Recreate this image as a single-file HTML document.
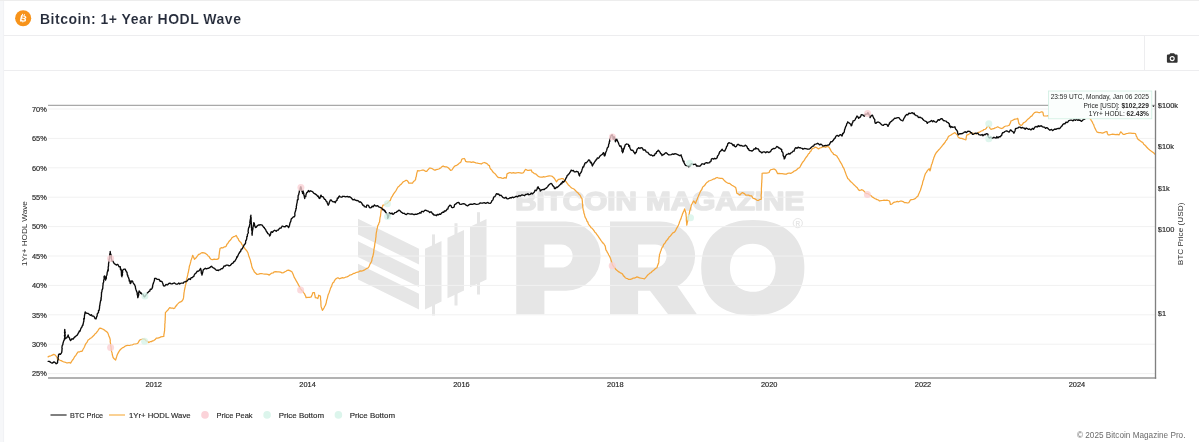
<!DOCTYPE html>
<html lang="en"><head><meta charset="utf-8"><title>Bitcoin: 1+ Year HODL Wave</title>
<style>
html,body{margin:0;padding:0;}
body{width:1199px;height:442px;overflow:hidden;background:#f6f7f9;position:relative;font-family:"Liberation Sans",sans-serif;}
#chart{position:absolute;left:0;top:0;width:1199px;height:442px;will-change:transform;}
#chart svg{display:block;}
.bar{position:absolute;left:4px;right:0;height:34px;border-bottom:1px solid #ededef;will-change:transform;}
#head{top:1px;}
#tools{top:36px;}
#head svg{position:absolute;left:11px;top:9px;}
#head h1{position:absolute;left:36px;top:7.95px;margin:0;font:bold 14px/20px "Liberation Sans",sans-serif;letter-spacing:0.5px;color:#262c3b;-webkit-text-stroke:0.1px #fff;white-space:nowrap;}
#tools .btn{position:absolute;right:0;top:-1px;width:55px;height:36px;border-left:1px solid #ededef;box-sizing:border-box;}
#tools .btn svg{position:absolute;left:21px;top:17px;}
#foot{position:absolute;right:13.7px;top:430.4px;font:8.2px/12px "Liberation Sans",sans-serif;color:#6b6b6b;white-space:nowrap;will-change:transform;}
</style></head><body>
<div id="chart">
<svg width="1199" height="442" viewBox="0 0 1199 442" >
<rect x="0" y="0" width="1199" height="442" fill="#f6f7f9"/>
<rect x="3.7" y="0.9" width="1199" height="442" fill="#fff"/>
<rect x="0" y="0" width="1199" height="0.95" fill="#ececec"/>
<line x1="3.6" x2="3.6" y1="1" y2="442" stroke="#ebedf0" stroke-width="0.6"/>
<g fill="#e6e6e6">
<polygon points="358,218.8 419,248.8 419,264.4 358,234.4"/>
<polygon points="358,241.3 419,271.3 419,286.9 358,256.9"/>
<polygon points="358,263.8 419,293.8 419,309.4 358,279.4"/>
<polygon points="425,248.8 441.5,241.0 441.5,301.6 425,309.4"/>
<rect x="432.0" y="234.4" width="3" height="81.1"/>
<polygon points="447.5,237.8 464,230.0 464,290.4 447.5,298.2"/>
<rect x="454.5" y="223.2" width="3" height="82.3"/>
<polygon points="470,226.8 486.5,219.0 486.5,279.4 470,287.2"/>
<rect x="477.0" y="212.2" width="3" height="82.3"/>
<text x="515.2" y="209.8" font-family="Liberation Sans, sans-serif" font-weight="bold" font-size="25.8" textLength="121.7" lengthAdjust="spacingAndGlyphs" stroke="#e6e6e6" stroke-width="1.6" stroke-linejoin="round">BITCOIN</text>
<text x="646.1" y="209.8" font-family="Liberation Sans, sans-serif" font-weight="bold" font-size="25.8" textLength="158.1" lengthAdjust="spacingAndGlyphs" stroke="#e6e6e6" stroke-width="1.6" stroke-linejoin="round">MAGAZINE</text>
<path fill-rule="evenodd" d="M516.25,221.5 L566,221.5 A34.6,34.6 0 0 1 566,290.75 L544.4,290.75 L544.4,314.25 L516.25,314.25 Z M544.4,244.4 L561,244.4 A11.6,11.6 0 0 1 561,267.6 L544.4,267.6 Z"/>
<path fill-rule="evenodd" d="M610,221.5 L660.5,221.5 A34.6,34.6 0 0 1 677.5,286.2 L696.9,314.25 L668.1,314.25 L650,290.75 L638.1,290.75 L638.1,314.25 L610,314.25 Z M638.1,244.4 L655,244.4 A11.6,11.6 0 0 1 655,267.6 L638.1,267.6 Z"/>
<path fill-rule="evenodd" d="M804.4,267.8 C804.4,297.7 785.0,315.6 752.8,315.6 C720.5,315.6 701.2,297.7 701.2,267.8 C701.2,237.9 720.5,220.0 752.8,220.0 C785.0,220.0 804.4,237.9 804.4,267.8 Z M775.6,267.8 C775.6,282.2 766.5,291.8 752.8,291.8 C739.1,291.8 730.0,282.2 730.0,267.8 C730.0,253.4 739.1,243.8 752.8,243.8 C766.5,243.8 775.6,253.4 775.6,267.8 Z"/>
</g>
<circle cx="797.8" cy="223.1" r="4.6" fill="none" stroke="#e6e6e6" stroke-width="1"/>
<text x="797.8" y="225.6" text-anchor="middle" font-family="Liberation Sans, sans-serif" font-weight="bold" font-size="6.5" fill="#e6e6e6">R</text>
<line x1="48" x2="1155.5" y1="109.0" y2="109.0" stroke="#f1f1f1" stroke-width="1"/>
<line x1="48" x2="1155.5" y1="138.4" y2="138.4" stroke="#f1f1f1" stroke-width="1"/>
<line x1="48" x2="1155.5" y1="167.8" y2="167.8" stroke="#f1f1f1" stroke-width="1"/>
<line x1="48" x2="1155.5" y1="197.2" y2="197.2" stroke="#f1f1f1" stroke-width="1"/>
<line x1="48" x2="1155.5" y1="226.6" y2="226.6" stroke="#f1f1f1" stroke-width="1"/>
<line x1="48" x2="1155.5" y1="256.0" y2="256.0" stroke="#f1f1f1" stroke-width="1"/>
<line x1="48" x2="1155.5" y1="285.4" y2="285.4" stroke="#f1f1f1" stroke-width="1"/>
<line x1="48" x2="1155.5" y1="314.8" y2="314.8" stroke="#f1f1f1" stroke-width="1"/>
<line x1="48" x2="1155.5" y1="344.2" y2="344.2" stroke="#f1f1f1" stroke-width="1"/>
<line x1="48" x2="1155.5" y1="373.6" y2="373.6" stroke="#f1f1f1" stroke-width="1"/>
<path d="M48.1,356.9 L49.4,356.1 L50.8,355.8 L52.3,355.1 L53.8,354.4 L55.1,355.0 L56.3,356.3 L56.9,357.4 L57.5,359.4 L58.6,359.5 L60.1,360.3 L61.2,360.6 L62.7,361.5 L63.8,361.9 L65.1,362.2 L66.4,362.8 L67.8,362.9 L69.1,362.5 L70.6,363.1 L71.5,361.7 L72.3,360.3 L73.1,359.5 L73.8,358.2 L74.7,356.5 L75.6,355.8 L76.5,354.2 L77.2,353.1 L78.1,351.9 L79.4,352.0 L80.7,351.3 L81.9,351.3 L82.7,350.1 L83.2,349.0 L83.9,348.0 L84.7,346.2 L85.3,344.7 L86.1,343.4 L86.7,342.7 L87.4,341.6 L88.1,340.0 L89.3,339.3 L90.4,338.3 L91.6,337.7 L92.7,336.5 L93.8,335.6 L94.9,334.0 L96.0,333.2 L96.8,332.1 L98.0,330.5 L99.0,328.9 L100.0,328.1 L101.1,328.4 L102.6,329.0 L103.7,329.6 L105.0,330.6 L106.4,331.5 L107.5,332.5 L108.0,333.4 L108.6,335.1 L109.1,336.6 L109.5,337.3 L110.0,338.8 L110.3,340.1 L110.2,342.0 L110.4,342.7 L110.6,344.2 L110.7,345.9 L111.0,346.8 L111.2,348.5 L111.3,350.0 L111.7,351.9 L112.1,353.0 L112.3,354.7 L112.8,356.4 L113.1,357.5 L114.4,359.1 L115.6,360.0 L116.1,358.5 L116.6,356.9 L117.0,355.5 L117.5,354.2 L118.1,353.1 L118.8,351.9 L119.6,350.5 L120.5,349.5 L121.3,348.8 L122.7,347.6 L123.7,347.3 L125.0,346.2 L126.3,345.6 L127.7,345.3 L129.5,345.5 L130.9,345.0 L132.5,344.8 L134.1,344.0 L135.8,343.8 L137.5,343.5 L138.2,342.6 L139.3,340.6 L140.0,339.8 L141.2,339.5 L142.4,339.2 L143.8,338.8 L145.2,339.8 L146.4,341.0 L147.5,341.4 L148.8,342.5 L150.1,341.7 L151.4,341.6 L152.5,340.9 L153.8,340.6 L155.2,339.6 L156.3,338.1 L157.9,338.1 L159.4,337.7 L160.8,336.9 L162.2,336.7 L163.8,336.5 L163.9,334.5 L164.2,333.1 L164.3,332.2 L164.6,330.6 L164.6,329.0 L164.8,327.0 L164.8,325.3 L164.8,323.9 L165.1,322.8 L165.0,321.6 L165.2,320.0 L165.2,318.0 L165.3,317.4 L165.3,315.8 L165.4,313.8 L165.4,312.7 L166.6,311.3 L167.5,310.6 L168.7,308.9 L169.7,307.7 L171.0,308.2 L172.4,308.0 L173.9,308.6 L174.8,307.9 L175.6,306.2 L176.4,305.9 L177.2,304.4 L178.3,303.4 L179.3,302.4 L180.6,301.9 L181.9,301.1 L183.1,299.4 L183.5,297.9 L183.7,296.2 L183.8,295.0 L184.0,292.9 L184.3,291.4 L184.5,289.8 L184.8,288.5 L185.2,286.7 L185.4,285.4 L185.8,284.2 L186.2,282.6 L186.4,281.2 L186.5,279.7 L186.9,278.2 L187.3,276.8 L187.7,274.9 L187.9,273.6 L188.3,272.6 L188.6,270.7 L188.9,269.5 L189.2,267.6 L189.4,266.2 L189.8,265.0 L190.2,263.7 L190.7,261.9 L191.0,260.3 L191.4,259.4 L191.9,257.9 L192.3,256.6 L192.7,255.3 L193.3,256.6 L194.0,258.0 L194.4,259.4 L195.6,258.3 L196.4,257.3 L197.7,255.7 L198.6,254.4 L199.9,254.1 L201.3,252.9 L202.7,252.7 L204.0,252.9 L205.5,253.4 L206.9,254.4 L208.1,255.9 L209.1,256.6 L210.0,258.3 L211.1,259.4 L212.7,259.7 L214.2,259.1 L215.5,259.3 L217.0,259.4 L218.6,258.6 L218.9,257.6 L219.0,255.4 L219.2,254.3 L219.4,252.6 L219.5,251.7 L219.8,250.1 L220.0,248.6 L221.3,247.7 L222.7,247.9 L224.1,246.9 L225.3,246.9 L226.3,246.0 L226.9,244.3 L227.8,243.5 L228.7,241.9 L229.4,241.0 L230.4,240.0 L231.1,239.1 L232.0,237.7 L233.5,236.7 L234.9,236.3 L236.2,235.5 L236.7,236.3 L237.4,238.0 L238.2,238.6 L238.7,240.2 L239.6,241.4 L240.5,242.1 L241.3,243.2 L242.0,244.6 L243.0,245.8 L243.7,246.9 L244.4,247.9 L245.3,249.2 L246.1,250.0 L247.0,251.1 L247.9,252.7 L248.3,254.1 L248.8,256.0 L249.3,257.3 L249.8,258.6 L250.4,260.3 L250.6,261.5 L251.1,263.3 L251.4,264.2 L251.7,265.9 L252.2,267.8 L252.9,269.1 L253.7,270.3 L254.2,271.8 L255.5,273.0 L256.8,274.3 L258.6,274.2 L260.2,273.6 L261.8,273.5 L263.3,274.0 L264.8,274.1 L266.2,274.1 L267.9,274.4 L269.3,275.1 L270.5,274.1 L271.9,273.1 L273.1,273.0 L274.3,271.8 L275.8,271.7 L277.4,271.9 L278.9,271.9 L280.6,272.1 L282.0,272.9 L283.5,272.6 L284.9,271.7 L286.0,271.2 L287.3,270.3 L288.6,270.1 L290.3,270.9 L291.9,271.8 L292.5,273.0 L293.1,274.3 L293.7,275.9 L294.4,277.7 L295.1,278.7 L296.0,280.4 L297.0,282.1 L297.8,283.5 L298.5,284.9 L299.2,286.1 L299.7,286.9 L300.3,288.7 L301.1,289.4 L302.0,290.7 L302.9,291.1 L303.7,292.9 L304.5,293.6 L305.1,295.2 L305.6,296.0 L306.1,297.7 L307.9,297.4 L309.6,297.4 L311.2,296.9 L311.8,295.6 L312.3,294.3 L312.8,292.7 L314.5,292.7 L314.6,294.1 L315.0,295.7 L315.3,297.7 L316.6,297.8 L317.8,298.6 L318.3,297.0 L318.7,295.2 L320.4,296.1 L320.6,297.8 L320.5,299.2 L320.8,301.0 L320.9,302.3 L320.9,304.0 L321.0,305.6 L321.2,306.9 L321.7,308.2 L322.4,310.3 L323.1,309.3 L324.0,308.0 L324.6,306.5 L325.4,305.3 L325.9,303.8 L326.3,302.6 L326.5,301.0 L327.0,299.1 L327.4,298.2 L327.7,296.6 L328.2,294.7 L328.7,293.6 L329.2,292.4 L329.6,291.1 L330.1,289.7 L330.5,288.3 L331.0,287.4 L331.7,286.1 L332.1,284.4 L332.9,282.7 L333.9,282.1 L334.5,280.5 L335.4,279.3 L336.8,278.2 L337.9,277.7 L339.6,278.8 L341.1,278.1 L342.6,277.7 L343.9,278.0 L345.5,277.2 L346.8,276.9 L348.2,276.4 L349.6,275.2 L350.7,274.9 L352.2,274.3 L353.5,273.4 L354.8,273.3 L356.1,272.5 L357.6,272.1 L358.8,271.8 L360.2,270.9 L361.4,271.1 L362.9,270.7 L364.1,270.2 L365.5,269.3 L366.6,268.4 L367.8,268.1 L368.9,266.8 L369.5,265.4 L370.0,264.1 L370.9,262.7 L371.4,261.8 L371.9,260.3 L372.0,258.9 L372.3,257.8 L372.9,256.3 L373.1,255.1 L373.4,254.0 L373.7,252.3 L373.8,251.2 L373.9,249.5 L374.2,248.1 L374.5,246.7 L374.7,245.0 L374.9,243.1 L375.2,242.1 L375.6,240.0 L375.7,238.4 L376.0,236.6 L376.0,235.6 L376.2,233.6 L376.4,232.4 L376.7,230.9 L377.0,229.2 L377.4,227.8 L377.5,226.7 L377.9,225.3 L378.6,224.5 L378.9,223.0 L379.6,221.9 L379.7,220.2 L379.9,218.8 L380.1,217.3 L380.5,216.1 L380.6,214.8 L380.8,213.0 L381.0,211.6 L381.2,210.2 L381.6,208.6 L381.9,208.1 L382.5,206.5 L382.9,205.2 L384.2,205.0 L385.6,203.9 L387.1,203.5 L388.3,202.2 L389.6,201.0 L390.4,200.2 L390.8,199.0 L391.6,197.0 L392.2,196.6 L392.9,195.1 L393.6,193.9 L394.7,192.4 L395.5,191.4 L396.2,190.2 L397.1,188.5 L398.0,187.0 L399.1,186.2 L400.0,185.0 L401.1,184.4 L402.1,183.1 L403.1,181.9 L404.4,181.3 L405.7,180.4 L406.9,180.3 L408.0,181.5 L408.8,183.1 L410.6,183.2 L412.5,183.1 L413.5,181.5 L414.6,180.8 L415.6,179.4 L415.8,177.6 L416.3,176.5 L416.5,174.9 L416.7,173.6 L417.2,171.9 L417.5,170.6 L419.2,170.8 L420.8,170.5 L422.5,170.0 L423.9,170.2 L425.5,171.3 L426.9,171.3 L427.6,170.1 L428.6,169.2 L429.4,168.1 L430.6,168.2 L431.9,168.5 L433.6,169.6 L435.0,170.3 L436.1,169.6 L437.5,169.3 L438.8,169.0 L439.8,168.4 L441.0,167.7 L441.9,166.7 L443.1,165.9 L444.3,166.7 L445.6,166.9 L446.9,166.9 L448.2,167.8 L449.5,169.0 L450.6,170.4 L451.9,170.0 L452.8,168.6 L453.9,167.0 L455.0,165.9 L456.7,165.3 L458.1,164.4 L459.3,163.1 L460.6,162.5 L461.3,161.0 L461.6,159.7 L462.3,158.8 L464.4,158.5 L465.0,159.5 L465.6,161.3 L467.2,161.9 L468.7,161.9 L470.0,161.9 L471.4,162.4 L473.1,161.9 L474.4,162.3 L475.8,162.9 L477.5,163.1 L478.7,163.5 L480.0,163.6 L481.3,164.0 L482.7,163.0 L484.4,162.5 L485.9,163.1 L487.5,164.0 L488.3,165.2 L489.4,165.6 L489.9,167.7 L490.6,169.0 L491.8,170.1 L492.7,171.8 L493.8,172.8 L494.7,173.4 L495.8,174.7 L496.5,175.6 L497.5,176.9 L498.8,177.7 L500.5,177.6 L501.9,178.1 L503.2,178.3 L504.7,177.7 L506.3,178.1 L506.4,177.1 L506.8,175.6 L506.9,174.0 L508.4,173.1 L510.0,172.5 L511.7,173.1 L513.4,172.7 L515.0,173.1 L516.6,172.8 L518.4,172.5 L520.0,172.8 L521.6,173.2 L523.1,172.8 L523.8,172.1 L524.8,170.3 L525.6,169.4 L527.3,170.3 L528.8,170.4 L530.0,170.1 L531.3,170.0 L531.9,171.9 L533.1,172.5 L534.3,173.6 L535.6,173.8 L536.9,175.1 L538.2,176.2 L539.4,176.9 L540.9,177.1 L542.5,177.1 L543.7,176.7 L544.9,177.0 L546.3,176.5 L548.0,176.1 L549.4,175.9 L551.2,176.0 L552.3,176.4 L553.5,177.5 L554.5,178.5 L555.3,179.9 L555.7,180.5 L556.5,181.8 L557.6,180.2 L558.7,179.3 L560.1,179.2 L561.5,178.5 L562.9,178.5 L564.0,179.7 L565.2,180.9 L566.2,181.8 L567.1,183.2 L568.2,184.7 L569.3,185.7 L570.4,186.9 L571.6,188.0 L572.8,188.5 L574.3,189.3 L575.4,190.5 L576.5,191.7 L577.8,192.7 L578.8,194.0 L580.0,195.1 L580.7,196.5 L581.2,197.8 L582.0,198.5 L582.2,199.9 L582.4,201.7 L582.4,202.4 L582.5,203.9 L582.7,206.1 L582.8,207.5 L583.0,208.5 L583.3,210.2 L583.7,211.1 L583.9,213.1 L584.4,214.2 L584.6,215.2 L585.0,216.9 L585.6,218.0 L586.4,219.4 L587.0,221.2 L587.8,222.0 L588.4,224.0 L589.2,225.2 L590.1,226.2 L591.2,227.8 L592.1,228.3 L593.2,229.7 L594.2,231.0 L594.9,232.3 L595.9,233.0 L596.7,234.4 L597.7,235.5 L598.4,236.7 L599.2,237.9 L600.1,239.2 L601.1,240.6 L601.7,241.3 L602.5,242.8 L603.5,243.2 L604.4,244.7 L605.1,245.9 L605.5,247.2 L605.6,248.7 L606.0,250.1 L606.7,250.9 L607.5,252.7 L608.1,253.5 L608.7,255.0 L609.4,256.0 L610.1,257.6 L610.7,259.1 L611.1,260.3 L611.8,262.4 L612.1,263.4 L612.7,265.2 L613.9,266.8 L614.6,267.7 L615.7,269.3 L616.8,270.2 L618.1,271.4 L619.3,272.1 L620.5,272.9 L621.9,273.5 L622.8,274.5 L623.5,275.9 L624.3,276.4 L625.2,277.7 L626.3,278.3 L627.4,278.5 L628.6,279.4 L630.4,279.4 L631.9,278.9 L633.2,278.0 L634.3,278.1 L635.5,277.7 L636.9,276.9 L638.3,277.4 L639.6,277.9 L641.1,278.2 L642.8,278.5 L644.5,278.9 L645.6,277.7 L646.5,276.6 L647.6,275.1 L648.6,274.4 L649.8,273.3 L651.2,272.5 L652.3,271.2 L653.7,270.2 L654.7,269.3 L655.9,268.2 L657.0,267.7 L657.4,266.1 L657.7,265.2 L658.2,264.1 L658.7,262.7 L658.9,261.5 L658.8,259.9 L659.1,258.5 L659.1,257.5 L659.5,256.0 L659.5,254.3 L660.1,253.2 L660.6,251.3 L661.1,250.3 L661.4,249.3 L662.0,247.6 L663.0,246.5 L663.6,244.5 L664.4,243.8 L665.3,242.6 L666.2,240.9 L667.1,240.0 L668.3,238.5 L669.1,237.1 L670.2,236.2 L671.2,235.0 L672.2,233.6 L673.4,232.6 L674.5,232.1 L675.4,230.9 L676.1,229.4 L676.7,228.2 L677.2,227.4 L677.9,226.1 L678.4,225.1 L679.1,223.4 L679.6,221.7 L680.0,220.8 L680.5,219.6 L681.1,218.4 L681.6,216.4 L682.1,215.2 L682.5,213.9 L683.0,212.9 L683.5,211.6 L684.2,210.2 L684.6,208.8 L685.1,210.4 L685.4,211.8 L686.0,213.5 L686.0,214.5 L686.2,216.5 L686.4,217.9 L686.3,219.0 L686.4,221.0 L686.6,221.8 L686.7,223.4 L686.8,225.2 L687.1,223.5 L687.3,222.4 L687.7,221.0 L688.1,219.2 L688.1,217.8 L688.6,216.3 L688.8,215.2 L689.2,214.1 L689.5,212.2 L689.9,210.4 L690.2,209.5 L690.6,208.1 L691.0,206.9 L691.3,205.1 L692.2,203.5 L693.0,202.0 L693.8,201.0 L694.6,202.2 L695.5,203.5 L696.1,201.7 L696.6,200.3 L697.1,199.7 L697.7,197.6 L698.3,196.5 L698.8,195.1 L699.4,194.0 L700.1,192.1 L701.0,190.5 L701.7,189.8 L702.4,187.7 L703.0,186.7 L704.0,186.0 L705.0,185.0 L705.8,183.6 L706.8,182.6 L708.0,181.7 L708.9,180.9 L710.4,180.5 L711.6,180.0 L713.1,179.2 L714.5,178.9 L715.9,177.9 L717.3,177.5 L718.9,178.2 L720.5,178.4 L722.3,178.4 L723.3,179.3 L724.6,180.8 L725.6,181.7 L726.8,182.5 L728.1,183.3 L729.5,183.3 L730.6,184.2 L731.9,185.2 L733.3,186.0 L734.5,186.7 L735.7,187.6 L736.1,189.2 L736.4,190.4 L736.6,192.0 L737.0,193.4 L738.4,194.0 L739.8,195.1 L741.2,193.5 L742.4,192.6 L743.4,193.1 L744.7,193.9 L745.7,195.1 L747.1,195.2 L748.5,195.1 L750.2,195.9 L751.6,195.9 L752.5,197.4 L753.2,198.5 L754.5,198.6 L755.8,199.4 L757.1,200.3 L758.3,200.5 L759.8,199.5 L761.1,199.3 L761.3,198.1 L761.1,195.9 L761.2,194.4 L761.4,193.5 L761.5,191.8 L761.4,190.2 L761.4,188.2 L761.5,187.3 L761.6,185.4 L761.6,183.6 L761.8,182.3 L761.8,180.8 L761.9,179.8 L762.0,178.2 L762.0,175.9 L762.1,174.8 L762.1,173.3 L763.6,173.0 L764.8,173.0 L766.2,173.1 L767.6,172.9 L769.1,172.5 L769.9,170.6 L770.9,169.6 L772.2,169.5 L773.3,169.0 L774.6,169.2 L775.9,170.3 L776.8,171.9 L777.5,173.6 L779.0,173.4 L780.6,173.7 L782.1,173.7 L783.4,173.9 L785.0,174.2 L786.4,174.1 L787.8,173.3 L789.2,173.0 L790.5,173.3 L791.8,172.8 L793.0,172.1 L794.3,171.0 L795.4,170.7 L796.7,169.8 L798.0,168.4 L799.3,167.8 L800.1,166.8 L801.1,164.9 L801.8,163.6 L802.6,162.2 L803.6,161.2 L804.4,160.2 L805.1,158.7 L806.1,157.3 L806.9,156.5 L807.7,155.2 L808.5,153.8 L809.4,153.2 L810.2,151.5 L811.0,151.1 L811.8,149.3 L812.7,148.5 L814.0,148.0 L815.2,147.2 L816.8,147.7 L818.5,148.9 L819.9,148.0 L821.2,147.6 L822.7,146.9 L824.1,146.7 L825.7,147.3 L827.2,146.5 L828.6,146.9 L829.4,147.8 L830.3,149.4 L831.2,151.1 L831.9,152.1 L832.8,152.9 L833.6,154.4 L835.2,154.9 L836.9,156.1 L837.6,157.4 L838.7,158.9 L839.5,160.6 L840.3,161.9 L841.0,163.2 L841.6,163.9 L842.3,165.4 L842.9,167.0 L843.6,167.8 L844.2,169.2 L844.6,170.4 L845.2,172.0 L845.7,173.4 L846.2,174.8 L846.7,176.0 L847.2,177.0 L847.7,178.5 L848.7,179.2 L849.9,180.8 L850.8,181.7 L851.9,182.6 L852.9,183.6 L854.0,184.8 L855.2,185.9 L856.1,186.8 L857.2,187.7 L858.3,189.5 L859.4,190.5 L860.8,190.1 L861.9,189.7 L863.0,190.3 L864.2,191.4 L865.3,192.7 L866.6,193.7 L867.8,193.6 L869.1,194.6 L870.3,195.2 L871.4,196.0 L872.4,197.1 L873.6,197.6 L874.5,198.5 L875.8,198.9 L877.1,199.7 L878.4,200.0 L879.5,201.0 L880.9,200.7 L882.5,200.5 L884.0,200.1 L885.6,200.3 L887.0,200.2 L888.2,200.5 L889.5,201.0 L890.0,202.5 L890.4,204.4 L891.8,204.1 L893.3,202.7 L894.6,202.2 L895.9,201.9 L897.4,201.4 L898.7,201.8 L900.0,201.2 L901.3,201.0 L903.1,201.6 L904.6,202.7 L906.0,202.6 L907.5,203.0 L908.8,202.7 L909.6,201.3 L910.5,199.9 L911.8,199.6 L913.2,199.5 L914.6,198.9 L915.7,198.2 L916.8,196.9 L918.0,196.0 L918.5,194.5 L919.3,192.7 L919.8,191.5 L920.5,190.2 L920.9,188.5 L921.4,187.1 L921.7,185.7 L922.3,184.5 L922.7,182.1 L923.0,181.0 L923.6,179.8 L924.1,177.6 L924.4,176.6 L925.1,174.5 L925.5,173.4 L926.4,172.4 L927.3,170.7 L928.3,169.6 L929.2,168.7 L929.5,169.7 L929.9,170.9 L930.4,169.8 L930.8,167.7 L931.1,166.6 L931.4,165.1 L932.0,163.7 L932.5,162.3 L933.0,160.3 L933.5,159.0 L933.9,157.5 L934.6,156.1 L935.0,154.9 L935.7,153.6 L936.6,152.2 L937.6,151.2 L938.6,150.0 L939.7,148.9 L940.7,147.7 L941.6,146.7 L942.5,145.2 L943.3,144.5 L944.1,143.5 L945.0,142.4 L945.7,140.9 L946.5,140.2 L947.5,138.6 L948.3,136.8 L949.1,136.0 L950.6,135.3 L952.0,134.2 L953.3,133.5 L954.9,132.6 L956.1,133.9 L957.4,135.1 L958.0,136.8 L958.8,137.7 L960.3,138.3 L961.7,138.4 L963.1,138.9 L964.6,139.5 L965.9,139.9 L966.1,138.1 L966.4,136.7 L966.7,135.2 L968.0,134.7 L969.5,133.8 L970.9,132.7 L972.5,133.1 L974.4,133.4 L975.9,133.8 L977.4,133.3 L978.7,132.3 L980.1,131.8 L981.4,131.0 L982.7,130.7 L983.9,129.5 L985.1,129.3 L986.2,128.5 L987.3,126.7 L988.5,126.0 L989.2,126.7 L990.2,128.6 L991.0,129.3 L992.4,128.9 L993.7,128.7 L995.1,127.9 L996.4,127.5 L997.7,126.8 L999.0,127.5 L1000.4,128.1 L1001.8,128.5 L1003.1,127.9 L1004.5,126.5 L1006.0,126.0 L1007.8,125.8 L1009.4,125.1 L1009.9,123.8 L1010.5,122.6 L1011.0,120.9 L1012.3,120.5 L1013.7,119.7 L1015.0,119.2 L1016.5,119.0 L1017.7,118.4 L1018.1,119.7 L1018.4,121.4 L1018.9,123.5 L1020.0,124.8 L1021.1,125.5 L1022.2,124.8 L1023.4,122.9 L1024.7,122.3 L1025.7,121.6 L1026.9,120.1 L1028.1,119.0 L1029.4,118.1 L1030.6,116.6 L1032.0,115.9 L1032.9,114.4 L1033.8,113.4 L1034.5,112.6 L1036.0,112.1 L1037.1,112.1 L1038.6,112.5 L1039.9,112.5 L1041.5,111.8 L1042.8,112.1 L1043.2,113.6 L1043.3,114.8 L1043.7,115.9 L1045.3,116.0 L1047.0,115.9 L1048.6,115.7 L1050.0,115.9 L1050.5,115.0 L1051.4,113.2 L1052.0,112.5 L1053.5,112.5 L1055.3,111.7 L1056.9,111.3 L1058.3,111.3 L1060.0,111.0 L1061.6,111.1 L1063.2,111.3 L1064.9,111.3 L1066.4,111.7 L1068.0,112.0 L1069.4,112.3 L1070.9,112.3 L1072.3,113.0 L1073.5,112.9 L1075.0,113.0 L1076.5,112.5 L1077.9,113.0 L1079.2,112.5 L1080.7,113.0 L1082.0,112.5 L1083.3,113.1 L1084.8,113.4 L1086.0,114.0 L1087.0,115.0 L1088.0,116.3 L1088.7,117.6 L1089.7,118.4 L1090.5,119.1 L1091.4,120.6 L1092.2,121.8 L1092.9,123.5 L1093.5,124.3 L1094.2,126.4 L1094.7,127.6 L1095.5,129.2 L1096.4,131.0 L1097.2,132.2 L1099.0,132.7 L1100.5,132.7 L1102.3,133.2 L1103.9,132.7 L1105.4,131.8 L1106.9,131.5 L1107.4,133.5 L1108.1,134.8 L1109.6,134.8 L1111.0,134.5 L1112.6,134.2 L1114.0,134.3 L1115.7,134.7 L1117.4,134.3 L1119.0,134.8 L1119.8,133.5 L1120.7,131.8 L1122.1,133.1 L1123.2,134.3 L1124.6,134.4 L1126.0,133.7 L1127.4,133.5 L1128.9,133.2 L1130.7,133.2 L1132.2,133.4 L1133.8,133.4 L1135.4,133.5 L1135.8,134.4 L1136.4,136.4 L1136.9,136.9 L1137.4,138.5 L1138.4,139.6 L1139.5,140.3 L1140.4,141.1 L1141.6,141.9 L1142.8,142.5 L1143.7,144.3 L1144.7,145.0 L1145.8,146.0 L1146.8,147.3 L1148.0,148.5 L1149.1,149.4 L1150.0,150.2 L1151.1,151.0 L1152.4,151.9 L1153.6,152.8 L1155.0,154.2" fill="none" stroke="#f5a63a" stroke-width="1.25" stroke-linejoin="round" stroke-linecap="round"/>
<path d="M48.1,361.3 L49.2,361.3 L50.3,362.1 L51.3,362.8 L52.3,363.1 L54.0,361.9 L54.9,362.4 L56.2,363.8 L57.5,362.9 L57.6,362.4 L57.6,360.9 L58.1,359.8 L58.2,358.4 L58.0,357.6 L58.4,356.6 L58.5,355.0 L59.2,354.0 L60.4,354.4 L61.3,353.1 L61.7,352.4 L61.9,351.2 L62.0,349.4 L62.2,348.4 L61.9,348.0 L62.2,345.5 L62.5,345.0 L62.8,344.9 L63.0,343.2 L63.4,341.9 L63.8,340.6 L64.3,340.0 L64.4,338.8 L64.7,338.0 L64.8,337.1 L64.4,335.6 L64.9,334.8 L64.7,333.7 L64.5,332.2 L64.8,331.2 L64.8,329.4 L64.6,330.2 L65.2,332.4 L65.2,332.1 L64.9,333.9 L65.3,334.9 L64.9,337.2 L65.0,337.8 L65.3,338.8 L65.9,338.3 L67.0,337.6 L67.7,336.0 L68.1,335.0 L68.4,335.8 L68.8,337.4 L69.5,337.8 L69.9,339.7 L70.6,340.6 L71.7,339.0 L72.6,338.8 L73.2,339.1 L74.1,337.6 L75.0,336.9 L75.8,336.3 L76.6,335.3 L77.3,335.1 L78.2,333.2 L78.8,332.5 L79.3,331.0 L80.0,331.3 L80.6,329.4 L80.9,328.4 L81.9,327.0 L82.5,325.2 L83.1,325.0 L83.0,324.2 L83.4,323.1 L83.5,322.1 L83.9,321.0 L83.7,318.6 L84.4,318.8 L84.3,316.9 L84.4,316.4 L84.6,314.9 L84.9,313.8 L85.0,312.6 L85.2,311.9 L86.0,313.0 L87.4,313.3 L88.2,313.4 L89.4,314.4 L90.3,315.4 L91.4,314.7 L92.2,316.1 L93.5,316.1 L94.2,316.7 L95.1,318.6 L96.0,318.9 L96.2,318.4 L96.8,316.3 L97.1,316.2 L97.3,313.8 L97.7,313.2 L98.5,312.6 L98.5,310.3 L99.1,310.3 L99.4,308.6 L99.5,308.1 L99.6,305.7 L99.8,305.8 L100.0,303.8 L100.2,302.8 L100.2,302.7 L100.8,299.8 L101.0,300.4 L101.2,298.4 L100.9,298.2 L101.4,296.7 L101.4,295.5 L101.5,293.6 L101.5,292.4 L101.9,291.8 L102.0,290.8 L102.0,290.1 L102.5,289.2 L102.8,288.1 L102.8,286.9 L103.1,284.1 L103.0,283.2 L103.3,283.0 L103.8,281.4 L103.6,280.7 L104.1,278.8 L104.2,278.1 L104.0,276.8 L104.4,275.9 L104.9,277.0 L105.2,277.4 L105.5,279.9 L105.6,280.1 L105.6,279.7 L106.4,278.2 L106.3,276.1 L106.7,275.5 L107.0,274.7 L107.0,274.3 L107.3,271.9 L107.8,271.7 L107.7,269.9 L108.3,270.4 L108.2,267.6 L108.2,266.9 L108.6,265.8 L108.5,265.2 L108.6,263.3 L108.9,262.1 L108.9,262.1 L109.0,259.7 L109.3,259.2 L109.4,258.3 L109.5,257.7 L109.7,256.6 L109.7,254.8 L110.0,253.8 L110.2,252.5 L110.2,251.5 L110.3,252.6 L110.7,253.9 L110.8,254.2 L111.3,256.1 L111.2,258.2 L111.6,259.3 L111.7,259.3 L111.9,260.9 L112.9,261.0 L113.8,262.9 L114.5,263.9 L115.3,264.2 L116.3,265.1 L117.4,264.4 L118.1,264.8 L119.0,266.7 L120.3,266.7 L120.3,267.0 L120.5,269.7 L121.1,269.2 L121.3,270.5 L121.4,272.6 L121.5,274.3 L121.4,275.1 L121.8,276.2 L122.0,276.8 L121.9,276.1 L122.5,275.0 L122.3,272.6 L122.7,272.4 L122.5,270.6 L122.8,270.0 L124.1,269.1 L125.3,269.2 L125.7,270.7 L126.1,270.9 L126.5,271.9 L127.0,272.3 L127.3,275.0 L127.8,275.1 L127.9,276.6 L128.6,277.6 L128.8,278.6 L129.2,279.3 L129.2,281.1 L129.9,280.6 L130.1,283.2 L130.4,283.5 L131.1,282.5 L131.3,281.2 L132.0,280.9 L132.6,281.3 L133.0,282.5 L134.0,284.2 L134.4,284.4 L135.0,285.7 L135.4,286.8 L135.5,288.1 L135.6,288.4 L136.1,290.0 L136.3,290.5 L136.8,291.9 L137.2,292.7 L137.2,294.4 L137.6,295.5 L137.7,297.2 L137.9,297.7 L138.2,296.5 L138.2,296.1 L138.8,294.8 L138.5,293.2 L139.0,291.6 L139.1,291.0 L140.1,292.2 L140.5,293.3 L141.2,292.9 L142.1,294.3 L143.1,294.5 L144.0,296.6 L144.6,296.8 L145.5,295.5 L145.9,294.8 L146.3,294.8 L147.4,292.7 L147.9,292.7 L148.7,291.5 L149.7,291.2 L150.3,289.2 L151.3,289.2 L152.1,288.5 L152.4,286.8 L152.6,287.1 L152.7,285.2 L153.3,283.6 L153.7,282.2 L153.5,282.5 L154.0,281.5 L154.5,280.0 L154.6,278.4 L155.8,278.3 L157.0,279.3 L158.0,279.3 L159.2,279.5 L160.2,281.4 L160.9,281.2 L162.2,281.8 L162.5,282.8 L163.1,284.3 L163.2,285.1 L163.8,286.0 L164.9,285.8 L166.0,284.4 L166.6,284.8 L167.6,284.8 L168.8,283.5 L170.0,283.2 L171.1,283.8 L172.1,283.9 L173.1,283.3 L174.5,282.9 L175.5,283.8 L176.6,284.2 L177.7,284.0 L178.8,283.0 L179.7,284.0 L180.9,283.2 L182.2,283.1 L183.1,283.2 L184.2,281.9 L185.4,281.9 L186.5,281.1 L187.3,280.9 L188.2,279.5 L189.1,278.8 L190.4,279.5 L191.1,277.7 L192.3,277.6 L193.1,276.6 L193.8,276.5 L194.1,275.3 L194.8,274.0 L195.6,273.4 L196.5,272.6 L197.1,271.2 L197.8,271.4 L199.2,270.6 L199.7,270.1 L200.6,268.4 L200.9,269.6 L201.3,270.9 L201.2,272.1 L201.5,273.6 L201.9,274.2 L202.0,275.1 L202.5,272.9 L202.6,272.9 L202.9,271.4 L203.2,270.1 L204.3,269.0 L205.3,268.2 L206.4,268.9 L207.7,268.3 L208.3,268.4 L209.7,267.7 L210.7,266.7 L211.6,266.3 L212.4,267.2 L213.8,268.2 L214.7,268.3 L215.3,269.5 L216.5,270.3 L217.4,270.1 L218.5,270.5 L219.2,269.8 L220.5,269.6 L221.2,268.6 L222.2,268.7 L223.2,267.8 L224.0,266.0 L225.3,266.1 L226.4,265.1 L227.8,265.1 L229.1,265.9 L230.4,265.3 L231.3,264.3 L232.0,263.3 L232.8,263.3 L234.0,261.4 L234.5,261.6 L235.4,260.3 L236.0,259.1 L236.4,258.6 L236.9,256.6 L237.4,257.1 L238.0,255.6 L238.5,254.1 L239.1,253.6 L239.6,251.9 L240.4,251.9 L241.0,250.3 L241.2,249.2 L242.0,249.0 L242.4,248.6 L243.1,247.0 L244.0,245.4 L244.1,244.8 L244.7,244.4 L245.4,243.5 L245.6,242.6 L245.7,240.6 L246.1,240.6 L246.5,239.6 L246.7,238.8 L246.9,236.4 L247.4,236.3 L247.4,234.3 L247.9,233.5 L248.4,232.6 L248.1,231.3 L248.4,229.0 L248.6,228.1 L249.2,226.7 L249.2,227.1 L249.6,225.1 L249.7,224.9 L250.1,223.5 L249.8,222.6 L250.2,220.3 L250.1,220.4 L250.7,218.0 L250.5,216.6 L250.9,215.9 L250.9,215.1 L250.8,217.0 L251.2,217.8 L251.1,219.1 L251.1,220.4 L251.1,220.5 L251.3,222.3 L251.2,222.5 L251.5,224.5 L251.4,225.6 L251.4,226.2 L251.4,227.8 L251.8,228.4 L251.5,230.0 L252.0,230.2 L252.1,232.1 L251.9,233.7 L252.2,234.8 L252.1,235.2 L252.2,233.7 L252.4,232.1 L252.3,232.6 L252.5,230.7 L253.0,228.7 L252.8,227.8 L253.3,226.5 L253.1,226.2 L253.8,224.4 L253.7,223.2 L253.8,222.6 L254.3,223.4 L254.6,224.8 L254.6,225.7 L254.9,226.0 L255.5,227.6 L256.1,227.4 L257.1,226.0 L258.4,224.9 L259.4,225.1 L260.1,224.7 L261.4,224.8 L262.2,225.1 L262.9,226.2 L263.7,227.3 L264.2,227.3 L264.6,228.4 L265.5,229.3 L266.2,230.9 L266.5,231.8 L267.3,232.2 L267.7,233.6 L268.5,233.8 L269.1,234.2 L269.7,236.0 L270.1,235.4 L270.6,234.2 L270.9,232.3 L271.4,231.8 L272.5,232.4 L273.5,231.0 L274.7,230.2 L276.2,231.3 L277.2,230.1 L278.3,230.1 L279.1,228.9 L279.7,228.1 L280.8,228.2 L281.4,227.5 L282.2,226.0 L283.4,226.5 L285.0,226.9 L286.3,225.6 L287.3,226.0 L287.7,226.2 L288.6,227.6 L288.9,226.9 L289.5,225.4 L289.9,223.4 L290.1,222.7 L290.7,221.7 L290.8,221.3 L291.2,219.0 L291.7,218.6 L292.3,217.9 L293.5,216.8 L294.2,216.9 L294.7,216.1 L294.9,215.5 L294.8,213.1 L295.2,211.9 L295.5,211.1 L295.9,209.6 L295.9,208.3 L296.4,208.3 L296.3,206.0 L296.7,205.2 L296.6,204.6 L297.2,202.2 L297.2,201.8 L297.4,199.8 L297.8,200.0 L298.2,199.2 L298.0,198.1 L298.2,195.4 L298.7,194.8 L299.0,192.9 L299.2,192.6 L299.4,190.7 L300.1,189.8 L300.1,189.0 L300.5,187.1 L300.9,186.8 L301.3,188.2 L301.6,189.8 L301.5,189.7 L302.2,191.8 L302.5,192.4 L302.6,193.5 L302.7,192.3 L303.1,191.0 L303.1,191.4 L303.8,193.4 L303.8,195.0 L304.3,195.6 L304.3,197.0 L304.5,197.3 L304.7,198.5 L304.9,196.7 L305.8,196.5 L305.9,195.0 L306.4,193.5 L306.8,192.6 L307.6,192.1 L308.4,190.5 L309.3,191.7 L310.5,190.8 L311.8,191.3 L312.6,191.8 L313.7,193.1 L314.0,193.3 L315.1,193.9 L315.8,194.4 L316.8,195.1 L317.7,196.3 L318.1,196.0 L318.7,197.4 L319.3,198.5 L320.1,198.1 L320.3,196.5 L321.0,195.1 L321.7,196.7 L322.9,196.6 L323.4,197.3 L324.6,199.3 L325.2,199.3 L325.6,199.9 L326.0,200.9 L327.0,201.8 L327.0,202.4 L327.5,203.6 L328.2,205.2 L328.7,204.2 L329.1,203.8 L329.1,202.8 L330.1,200.8 L330.2,200.2 L331.1,199.9 L332.1,201.2 L332.9,201.8 L334.5,201.7 L335.2,202.7 L336.0,201.1 L336.7,200.2 L337.1,200.2 L337.3,198.2 L338.0,198.4 L339.0,196.4 L339.4,196.0 L340.3,196.9 L341.8,197.2 L342.7,196.3 L344.4,196.4 L345.3,196.8 L346.2,196.6 L347.4,196.5 L349.0,197.1 L349.8,196.7 L351.1,197.7 L352.4,199.2 L353.1,199.9 L354.5,199.3 L355.3,200.2 L356.4,200.5 L357.0,200.5 L358.4,200.9 L359.3,202.0 L360.3,201.8 L361.2,202.6 L362.0,203.4 L362.6,205.0 L363.9,205.4 L364.3,206.7 L365.3,206.9 L366.3,207.2 L366.8,205.1 L367.8,205.2 L368.4,205.3 L369.4,207.4 L370.1,207.8 L371.2,207.7 L372.2,206.1 L373.1,206.9 L373.7,206.0 L374.5,204.9 L375.3,205.9 L376.6,206.0 L377.7,205.7 L378.7,206.9 L379.7,207.1 L380.6,207.7 L381.8,208.1 L382.9,209.8 L383.7,209.4 L384.6,211.1 L385.3,211.0 L385.5,212.0 L386.6,213.4 L387.1,214.4 L387.3,215.1 L387.7,216.0 L387.5,217.3 L387.7,218.4 L388.3,217.3 L388.5,217.0 L388.9,214.9 L389.2,213.0 L389.6,212.7 L390.9,213.9 L392.0,213.0 L392.9,214.4 L394.2,213.5 L394.7,212.7 L396.1,212.4 L397.0,211.5 L397.7,211.3 L398.8,210.2 L399.7,210.4 L400.4,211.3 L401.6,212.4 L402.2,212.7 L403.1,213.4 L404.3,213.3 L405.5,214.4 L406.4,214.5 L407.6,213.4 L408.6,213.7 L410.2,214.1 L411.2,214.0 L412.2,213.9 L413.5,214.5 L414.4,214.6 L415.3,214.1 L416.6,214.4 L418.0,213.6 L418.9,213.6 L419.7,212.7 L420.9,213.2 L421.5,211.4 L422.4,211.4 L423.5,211.8 L424.6,210.3 L425.6,210.2 L426.6,210.6 L427.7,211.1 L428.4,211.1 L429.7,212.5 L430.6,211.9 L431.4,211.9 L432.6,214.0 L432.9,213.6 L434.0,215.2 L435.1,215.0 L436.4,215.7 L437.3,214.5 L438.6,214.8 L439.4,214.0 L440.6,214.4 L441.7,212.9 L442.9,212.1 L443.7,212.4 L444.5,210.9 L445.7,211.0 L446.6,210.0 L447.0,209.1 L447.9,209.0 L448.3,207.2 L449.4,205.8 L449.9,205.2 L450.8,205.3 L451.5,207.1 L452.4,207.7 L453.5,207.4 L454.2,206.7 L454.6,204.6 L455.6,204.2 L456.8,203.0 L457.4,202.7 L458.8,202.4 L459.7,204.1 L461.1,204.3 L462.4,203.8 L463.3,203.7 L464.5,203.8 L465.8,204.9 L466.6,205.5 L467.5,205.9 L468.9,204.9 L469.9,204.2 L471.4,204.2 L472.4,204.4 L473.3,204.0 L474.6,203.7 L475.6,204.2 L476.7,204.4 L478.0,204.2 L479.1,203.8 L480.3,202.9 L481.3,203.1 L482.4,203.2 L483.4,202.8 L484.2,202.7 L485.7,203.3 L486.7,202.8 L487.9,202.4 L488.6,203.2 L490.1,203.4 L490.9,202.8 L491.7,201.5 L491.8,200.8 L492.5,200.3 L493.1,199.3 L493.7,197.1 L494.2,196.9 L494.8,196.7 L495.7,195.3 L496.1,194.3 L496.8,193.6 L498.0,194.3 L498.6,194.0 L499.8,195.6 L501.0,195.2 L501.8,196.1 L502.8,197.3 L504.0,198.0 L504.7,198.1 L505.9,197.2 L506.8,198.6 L507.8,198.9 L509.1,198.3 L510.3,197.7 L511.2,198.1 L512.4,197.1 L513.5,197.7 L514.7,197.1 L515.7,196.5 L516.8,196.3 L517.7,196.8 L519.1,195.5 L520.2,196.1 L521.3,195.2 L522.2,194.9 L523.8,195.3 L524.7,195.7 L525.5,194.5 L526.9,194.4 L527.9,193.7 L528.9,194.7 L530.2,194.4 L531.2,193.1 L532.3,193.9 L533.6,192.7 L534.4,191.9 L535.0,190.2 L536.1,190.7 L537.0,189.3 L537.6,187.1 L538.3,186.9 L538.6,188.4 L539.6,188.9 L539.9,189.6 L540.3,191.0 L541.4,189.9 L542.3,189.6 L543.5,189.3 L544.3,189.5 L545.3,188.5 L546.1,188.1 L546.8,187.6 L547.9,186.4 L548.4,185.4 L549.6,184.3 L550.5,183.7 L551.2,183.5 L552.1,184.3 L552.7,185.8 L553.0,185.8 L554.1,186.9 L554.4,188.5 L555.3,188.5 L556.4,187.2 L557.0,187.6 L557.7,186.9 L558.8,185.9 L559.4,185.3 L560.4,184.4 L561.3,183.0 L561.8,183.8 L562.6,181.4 L563.6,182.2 L564.5,181.0 L565.3,179.9 L565.5,179.2 L565.9,178.4 L566.9,176.7 L567.1,175.5 L567.9,175.1 L568.5,174.1 L569.0,174.0 L569.8,172.7 L570.5,171.7 L571.2,170.1 L572.2,170.8 L573.3,170.4 L574.3,171.9 L575.4,171.8 L576.6,171.3 L577.9,171.8 L578.2,172.1 L578.8,174.0 L579.1,175.1 L579.6,176.0 L579.7,174.0 L580.3,173.5 L580.7,172.8 L581.3,172.0 L581.8,170.7 L582.1,169.3 L582.5,168.4 L582.8,167.0 L583.6,167.0 L584.3,164.7 L584.6,164.7 L584.8,163.4 L585.5,162.6 L586.3,162.9 L587.8,161.1 L588.6,160.0 L589.6,160.1 L589.9,161.0 L590.5,162.9 L591.0,162.1 L591.6,163.1 L592.2,165.7 L592.4,166.0 L593.1,164.2 L593.6,163.7 L594.1,162.8 L594.9,161.5 L595.7,160.5 L596.4,159.5 L596.7,159.4 L597.3,158.0 L598.4,158.2 L599.2,157.4 L599.8,156.3 L600.9,155.2 L601.7,154.7 L602.3,154.4 L603.4,152.7 L603.9,153.0 L604.2,155.7 L604.7,156.0 L605.1,155.2 L605.5,153.5 L605.6,152.7 L606.4,151.0 L606.7,150.2 L607.1,148.6 L607.5,147.5 L608.1,147.1 L608.4,146.6 L608.7,144.1 L609.2,143.5 L609.3,141.6 L609.7,141.5 L609.7,139.8 L610.0,138.4 L610.3,138.1 L610.7,137.7 L610.9,135.9 L612.1,134.8 L612.4,135.6 L612.9,136.2 L613.0,138.7 L613.4,139.3 L613.7,138.5 L614.3,136.8 L614.4,137.5 L614.9,138.7 L615.3,140.8 L615.4,141.8 L616.3,139.8 L616.8,139.3 L617.2,140.4 L617.8,141.6 L618.2,142.2 L618.9,144.2 L619.3,145.1 L620.0,146.3 L621.0,146.0 L621.4,147.9 L621.8,148.6 L622.0,148.7 L621.9,151.2 L622.6,151.8 L622.6,152.7 L623.2,151.2 L623.3,151.3 L623.5,148.8 L624.0,149.0 L624.4,146.9 L624.6,147.0 L625.1,145.1 L626.5,143.9 L627.3,144.2 L628.5,144.3 L628.8,146.3 L629.6,145.6 L629.6,147.0 L630.2,148.5 L630.9,149.9 L631.8,150.4 L632.7,150.2 L633.1,150.7 L633.8,152.1 L634.4,152.7 L634.9,153.8 L635.7,152.4 L636.2,152.6 L636.5,151.4 L637.1,149.3 L638.2,148.1 L638.5,147.7 L639.9,148.5 L640.5,147.8 L641.9,147.7 L642.5,148.4 L643.4,150.1 L644.7,149.8 L645.5,150.4 L646.1,151.8 L647.0,152.1 L648.0,152.4 L648.5,153.6 L649.4,154.4 L650.6,155.2 L651.5,155.0 L652.8,156.0 L653.4,155.5 L654.4,155.5 L655.2,153.5 L656.1,153.5 L656.7,151.7 L657.5,151.4 L658.3,150.2 L658.8,150.8 L659.7,151.9 L660.3,152.7 L660.6,153.7 L661.6,154.0 L662.0,155.5 L663.0,154.8 L664.3,154.1 L665.1,153.2 L666.2,152.7 L666.8,153.2 L667.9,154.3 L668.7,154.9 L669.9,154.8 L671.3,154.6 L672.7,153.9 L673.7,154.4 L675.0,153.7 L676.0,153.9 L676.7,154.2 L678.2,154.8 L679.3,155.4 L679.9,155.7 L681.2,154.9 L681.3,155.7 L681.9,157.5 L682.4,158.5 L682.7,160.1 L682.9,160.2 L683.4,161.8 L684.0,161.3 L683.9,162.2 L684.6,163.9 L685.5,165.3 L686.4,165.7 L687.8,165.6 L688.7,166.9 L689.4,165.2 L689.8,166.1 L690.8,164.8 L691.3,163.6 L692.6,164.1 L693.2,164.5 L694.6,164.4 L695.7,164.2 L696.5,166.1 L697.5,165.8 L698.8,166.1 L699.8,166.2 L701.0,165.0 L702.1,163.8 L703.0,163.9 L704.3,164.3 L705.1,163.1 L706.6,162.7 L707.4,163.0 L708.7,162.9 L709.7,162.7 L710.2,161.3 L711.1,161.1 L711.3,159.2 L712.2,158.5 L713.6,159.1 L714.6,158.3 L715.9,158.8 L717.2,157.7 L717.4,156.2 L718.1,155.5 L718.7,154.5 L718.8,154.1 L719.3,153.1 L719.7,151.8 L720.5,151.2 L721.4,150.2 L722.2,149.3 L722.9,150.5 L723.8,151.0 L724.7,151.0 L725.0,150.6 L725.7,148.9 L726.1,148.3 L726.6,146.3 L727.4,145.9 L727.7,143.8 L728.6,143.1 L728.9,142.6 L730.1,143.1 L731.3,143.3 L732.3,144.3 L733.2,145.5 L733.9,144.6 L734.5,146.2 L735.6,146.8 L736.3,146.5 L737.3,144.7 L738.1,144.3 L739.1,144.9 L740.2,145.8 L741.0,145.3 L742.3,146.0 L743.3,146.1 L744.3,146.1 L745.2,145.1 L746.5,146.0 L746.9,146.4 L747.8,148.8 L748.5,148.7 L749.0,150.2 L749.8,150.5 L750.9,150.7 L751.9,151.1 L753.2,150.2 L753.9,149.0 L755.0,149.2 L755.7,147.7 L756.3,148.5 L757.5,148.9 L758.4,148.9 L759.3,151.1 L759.9,151.5 L760.7,151.8 L761.8,152.9 L763.0,151.9 L764.6,151.9 L765.7,152.7 L766.9,151.7 L768.0,152.1 L769.0,152.5 L769.9,151.8 L770.5,151.6 L771.5,149.7 L772.5,149.2 L773.3,148.5 L774.6,148.6 L775.7,148.0 L776.7,146.5 L777.7,146.8 L778.9,148.1 L779.6,148.0 L780.5,149.0 L781.7,149.4 L781.7,151.2 L782.2,151.8 L782.6,152.0 L783.1,153.6 L783.1,155.4 L783.6,156.4 L783.8,156.2 L784.2,158.5 L784.2,158.9 L784.8,158.3 L785.5,156.1 L786.2,155.0 L786.7,154.4 L787.9,154.2 L788.6,153.4 L789.9,154.1 L790.8,152.8 L791.8,152.7 L792.6,151.7 L793.0,151.1 L794.1,151.1 L794.4,149.9 L795.3,148.0 L795.9,147.7 L797.0,148.3 L798.1,147.2 L799.0,147.7 L800.1,147.7 L801.1,148.1 L802.3,148.4 L803.0,149.2 L804.3,148.5 L805.7,148.6 L806.7,148.8 L807.6,149.2 L809.1,149.1 L810.2,148.5 L810.9,147.8 L811.7,147.1 L812.6,146.1 L813.7,146.0 L814.4,144.4 L815.6,144.2 L816.5,143.9 L817.7,143.3 L818.5,143.8 L819.7,144.9 L820.8,144.1 L821.7,144.5 L822.7,146.0 L823.7,145.8 L825.4,145.5 L826.3,145.6 L827.7,145.2 L828.5,145.1 L829.3,144.6 L830.5,142.4 L830.9,141.7 L831.9,141.8 L832.4,141.3 L833.5,140.0 L833.9,139.1 L834.9,138.4 L835.5,137.1 L836.1,136.0 L837.2,135.4 L838.6,136.3 L839.5,135.1 L840.6,134.6 L842.0,136.0 L842.6,134.5 L842.6,133.5 L843.1,133.6 L843.6,133.0 L844.3,131.8 L844.5,130.1 L845.1,128.5 L845.2,127.9 L845.9,126.1 L846.0,126.1 L846.4,125.5 L846.7,123.8 L847.6,122.6 L847.8,121.8 L848.3,122.6 L849.2,122.9 L850.1,123.8 L850.7,124.2 L851.2,125.9 L851.9,125.1 L852.0,123.6 L852.8,122.3 L853.0,121.0 L853.7,120.9 L854.6,120.4 L855.2,119.6 L855.9,118.0 L856.4,117.3 L857.0,115.9 L857.3,116.6 L858.0,116.8 L858.7,118.4 L859.1,117.4 L860.0,117.4 L860.8,116.1 L861.2,114.7 L862.7,114.8 L863.7,115.9 L864.4,116.2 L865.5,114.1 L866.2,114.2 L867.2,114.1 L867.9,112.6 L868.4,113.4 L868.6,113.9 L869.4,115.4 L869.9,115.8 L870.1,117.6 L871.1,115.9 L871.8,115.4 L872.4,115.1 L873.1,116.8 L873.4,117.2 L873.8,118.4 L874.4,119.0 L874.8,119.7 L874.8,121.6 L875.3,123.2 L875.8,123.4 L876.9,122.3 L878.2,122.0 L879.6,122.6 L880.7,123.8 L881.5,124.5 L882.1,125.1 L883.4,125.4 L884.2,124.3 L885.5,124.3 L886.4,124.3 L887.3,125.1 L888.0,126.4 L888.5,125.1 L889.1,124.6 L889.4,123.0 L889.8,123.1 L890.5,121.8 L891.6,121.4 L892.4,120.1 L893.3,119.8 L894.0,118.9 L894.7,118.1 L895.6,118.3 L896.8,117.9 L897.9,117.7 L898.9,117.6 L900.0,119.2 L900.6,119.8 L901.8,120.5 L902.7,120.9 L903.0,120.6 L904.1,118.1 L904.6,117.4 L905.0,116.7 L905.6,115.4 L906.7,114.5 L907.8,114.8 L908.9,113.1 L909.9,113.5 L911.2,113.2 L912.3,112.6 L913.3,113.7 L914.2,113.1 L914.6,114.7 L915.6,115.1 L916.2,115.7 L917.5,115.8 L918.4,117.4 L919.0,117.6 L919.9,117.2 L921.2,117.9 L922.3,118.4 L923.0,119.6 L924.0,120.5 L924.8,120.9 L925.8,121.3 L926.5,121.8 L927.3,123.4 L928.1,122.1 L929.4,121.9 L930.4,121.4 L931.5,120.4 L932.8,121.7 L933.5,120.7 L934.9,121.8 L936.1,122.2 L937.4,120.9 L938.2,119.6 L939.3,120.2 L940.6,119.0 L941.5,118.7 L942.4,119.0 L943.4,120.7 L944.1,120.6 L944.9,120.9 L946.1,121.1 L947.1,122.3 L948.2,122.6 L948.9,123.6 L949.4,124.0 L949.5,126.5 L950.6,126.1 L950.8,127.6 L952.0,126.6 L952.6,127.4 L953.6,127.2 L954.9,126.8 L955.4,128.6 L956.3,129.8 L956.6,130.1 L957.0,130.6 L957.6,131.8 L957.6,132.9 L958.3,134.8 L959.6,133.7 L960.3,133.7 L961.5,133.7 L962.5,133.5 L963.6,132.7 L964.2,132.2 L965.3,131.8 L966.4,132.6 L967.9,131.2 L969.1,131.3 L970.0,131.5 L970.8,132.8 L971.5,132.6 L972.5,134.3 L973.4,134.3 L974.3,133.7 L975.8,133.2 L976.7,133.5 L977.8,133.2 L978.8,134.6 L979.8,134.8 L980.9,135.2 L982.1,134.5 L983.0,135.8 L984.3,134.4 L985.1,134.8 L986.2,133.7 L987.6,133.8 L988.1,135.0 L988.0,135.9 L988.5,136.8 L989.3,138.1 L990.8,137.2 L991.7,138.4 L992.6,138.2 L993.9,137.2 L994.5,137.6 L996.1,138.1 L996.9,136.5 L997.9,138.0 L999.3,136.6 L1000.2,136.8 L1001.1,135.7 L1001.7,135.4 L1001.9,134.1 L1002.7,132.7 L1003.8,132.5 L1004.9,131.5 L1006.0,131.0 L1007.1,131.0 L1008.5,131.8 L1009.3,132.0 L1010.4,129.9 L1011.0,130.1 L1011.8,130.9 L1012.2,131.3 L1013.4,132.1 L1013.9,133.2 L1014.6,131.8 L1015.0,130.9 L1015.2,129.8 L1015.5,128.7 L1016.1,128.5 L1017.1,128.2 L1018.0,127.9 L1019.1,127.1 L1020.3,127.1 L1021.1,128.1 L1022.6,127.4 L1023.2,128.0 L1024.4,128.1 L1025.2,129.3 L1026.2,128.0 L1027.8,128.9 L1028.6,129.3 L1029.7,128.9 L1030.9,129.9 L1032.4,128.4 L1033.6,129.3 L1034.5,127.6 L1035.4,126.8 L1036.2,126.5 L1037.2,127.0 L1038.3,125.8 L1039.0,126.5 L1040.3,126.0 L1041.3,125.8 L1042.3,126.6 L1043.3,127.1 L1044.5,127.1 L1045.5,128.4 L1046.4,127.7 L1047.5,128.0 L1048.7,129.3 L1049.9,130.2 L1051.5,129.4 L1052.6,130.6 L1053.7,129.8 L1054.8,129.0 L1055.9,129.3 L1057.1,128.7 L1058.6,128.3 L1059.6,128.5 L1060.2,127.9 L1061.0,126.8 L1061.3,126.3 L1062.2,125.8 L1062.9,124.3 L1064.2,123.6 L1064.9,123.9 L1066.0,122.1 L1067.1,122.6 L1067.9,121.9 L1068.8,120.6 L1069.8,120.3 L1070.5,120.1 L1071.6,120.2 L1073.0,120.9 L1074.1,119.5 L1075.5,120.4 L1076.6,119.2 L1078.0,120.4 L1078.8,119.3 L1079.4,120.3 L1080.3,120.2 L1081.3,121.4 L1082.5,120.5 L1083.6,119.1 L1084.7,119.3" fill="none" stroke="#0a0a0a" stroke-width="1.35" stroke-linejoin="round" stroke-linecap="round"/>
<circle cx="110.6" cy="347.5" r="3.5" fill="#facfd4" fill-opacity="0.78"/>
<circle cx="110.6" cy="258.5" r="3.5" fill="#facfd4" fill-opacity="0.78"/>
<circle cx="144.6" cy="341.3" r="3.5" fill="#d6f4e9" fill-opacity="0.78"/>
<circle cx="144.9" cy="296" r="3.5" fill="#d6f4e9" fill-opacity="0.78"/>
<circle cx="300.9" cy="187.5" r="3.5" fill="#facfd4" fill-opacity="0.78"/>
<circle cx="300.6" cy="289.9" r="3.5" fill="#facfd4" fill-opacity="0.78"/>
<circle cx="387.4" cy="203.8" r="3.5" fill="#d6f4e9" fill-opacity="0.78"/>
<circle cx="387.6" cy="216.6" r="3.5" fill="#d6f4e9" fill-opacity="0.78"/>
<circle cx="612.4" cy="137" r="3.5" fill="#facfd4" fill-opacity="0.78"/>
<circle cx="612.2" cy="265.7" r="3.5" fill="#facfd4" fill-opacity="0.78"/>
<circle cx="689.6" cy="163.2" r="3.5" fill="#d6f4e9" fill-opacity="0.78"/>
<circle cx="690.5" cy="217.7" r="3.5" fill="#d6f4e9" fill-opacity="0.78"/>
<circle cx="867.6" cy="113.5" r="3.5" fill="#facfd4" fill-opacity="0.78"/>
<circle cx="867.4" cy="194.4" r="3.5" fill="#facfd4" fill-opacity="0.78"/>
<circle cx="988.8" cy="123.8" r="3.5" fill="#d6f4e9" fill-opacity="0.78"/>
<circle cx="988.8" cy="138.8" r="3.5" fill="#d6f4e9" fill-opacity="0.78"/>
<line x1="48" x2="1155.5" y1="105.3" y2="105.3" stroke="#a9a9a9" stroke-width="1.3"/>
<line x1="48" x2="1156.2" y1="378" y2="378" stroke="#999" stroke-width="1.7"/>
<line x1="1155.5" x2="1155.5" y1="90.5" y2="378.8" stroke="#808080" stroke-width="1.35"/>
<text x="46.8" y="111.7" text-anchor="end" font-family="Liberation Sans, sans-serif" font-size="7.4" fill="#2a2a2a" stroke="#2a2a2a" stroke-width="0.18">70%</text>
<text x="46.8" y="141.1" text-anchor="end" font-family="Liberation Sans, sans-serif" font-size="7.4" fill="#2a2a2a" stroke="#2a2a2a" stroke-width="0.18">65%</text>
<text x="46.8" y="170.5" text-anchor="end" font-family="Liberation Sans, sans-serif" font-size="7.4" fill="#2a2a2a" stroke="#2a2a2a" stroke-width="0.18">60%</text>
<text x="46.8" y="199.9" text-anchor="end" font-family="Liberation Sans, sans-serif" font-size="7.4" fill="#2a2a2a" stroke="#2a2a2a" stroke-width="0.18">55%</text>
<text x="46.8" y="229.3" text-anchor="end" font-family="Liberation Sans, sans-serif" font-size="7.4" fill="#2a2a2a" stroke="#2a2a2a" stroke-width="0.18">50%</text>
<text x="46.8" y="258.7" text-anchor="end" font-family="Liberation Sans, sans-serif" font-size="7.4" fill="#2a2a2a" stroke="#2a2a2a" stroke-width="0.18">45%</text>
<text x="46.8" y="288.1" text-anchor="end" font-family="Liberation Sans, sans-serif" font-size="7.4" fill="#2a2a2a" stroke="#2a2a2a" stroke-width="0.18">40%</text>
<text x="46.8" y="317.5" text-anchor="end" font-family="Liberation Sans, sans-serif" font-size="7.4" fill="#2a2a2a" stroke="#2a2a2a" stroke-width="0.18">35%</text>
<text x="46.8" y="346.9" text-anchor="end" font-family="Liberation Sans, sans-serif" font-size="7.4" fill="#2a2a2a" stroke="#2a2a2a" stroke-width="0.18">30%</text>
<text x="46.8" y="376.3" text-anchor="end" font-family="Liberation Sans, sans-serif" font-size="7.4" fill="#2a2a2a" stroke="#2a2a2a" stroke-width="0.18">25%</text>
<text x="153.7" y="387.2" text-anchor="middle" font-family="Liberation Sans, sans-serif" font-size="7.4" fill="#2a2a2a" stroke="#2a2a2a" stroke-width="0.18">2012</text>
<text x="307.6" y="387.2" text-anchor="middle" font-family="Liberation Sans, sans-serif" font-size="7.4" fill="#2a2a2a" stroke="#2a2a2a" stroke-width="0.18">2014</text>
<text x="461.4" y="387.2" text-anchor="middle" font-family="Liberation Sans, sans-serif" font-size="7.4" fill="#2a2a2a" stroke="#2a2a2a" stroke-width="0.18">2016</text>
<text x="615.3" y="387.2" text-anchor="middle" font-family="Liberation Sans, sans-serif" font-size="7.4" fill="#2a2a2a" stroke="#2a2a2a" stroke-width="0.18">2018</text>
<text x="769.2" y="387.2" text-anchor="middle" font-family="Liberation Sans, sans-serif" font-size="7.4" fill="#2a2a2a" stroke="#2a2a2a" stroke-width="0.18">2020</text>
<text x="923.0" y="387.2" text-anchor="middle" font-family="Liberation Sans, sans-serif" font-size="7.4" fill="#2a2a2a" stroke="#2a2a2a" stroke-width="0.18">2022</text>
<text x="1076.9" y="387.2" text-anchor="middle" font-family="Liberation Sans, sans-serif" font-size="7.4" fill="#2a2a2a" stroke="#2a2a2a" stroke-width="0.18">2024</text>
<text x="1157.8" y="107.9" font-family="Liberation Sans, sans-serif" font-size="7.4" fill="#2a2a2a" stroke="#2a2a2a" stroke-width="0.18">$100k</text>
<text x="1157.8" y="149.4" font-family="Liberation Sans, sans-serif" font-size="7.4" fill="#2a2a2a" stroke="#2a2a2a" stroke-width="0.18">$10k</text>
<text x="1157.8" y="191.3" font-family="Liberation Sans, sans-serif" font-size="7.4" fill="#2a2a2a" stroke="#2a2a2a" stroke-width="0.18">$1k</text>
<text x="1157.8" y="232.3" font-family="Liberation Sans, sans-serif" font-size="7.4" fill="#2a2a2a" stroke="#2a2a2a" stroke-width="0.18">$100</text>
<text x="1157.8" y="315.6" font-family="Liberation Sans, sans-serif" font-size="7.4" fill="#2a2a2a" stroke="#2a2a2a" stroke-width="0.18">$1</text>
<text transform="translate(26.5,266) rotate(-90)" textLength="64.8" lengthAdjust="spacingAndGlyphs" font-family="Liberation Sans, sans-serif" font-size="8.1" fill="#2e2e2e">1Yr+ HODL Wave</text>
<text transform="translate(1183.1,265.2) rotate(-90)" textLength="62.6" lengthAdjust="spacingAndGlyphs" font-family="Liberation Sans, sans-serif" font-size="8.1" fill="#2e2e2e">BTC Price (USD)</text>
<circle cx="1153.4" cy="106.3" r="0.8" fill="#222"/>
<rect x="1048.5" y="91" width="103.3" height="27.8" fill="#fbfefd" stroke="#cfeee1" stroke-width="0.8"/>
<text x="1148.9" y="99.4" font-family="Liberation Sans, sans-serif" font-size="6.58" fill="#262626" text-anchor="end">23:59 UTC, Monday, Jan 06 2025</text>
<text x="1148.9" y="107.8" font-family="Liberation Sans, sans-serif" font-size="6.58" fill="#262626" text-anchor="end">Price [USD]: <tspan font-weight="bold">$102,229</tspan></text>
<text x="1148.9" y="116.2" font-family="Liberation Sans, sans-serif" font-size="6.58" fill="#262626" text-anchor="end">1Yr+ HODL: <tspan font-weight="bold">62.43%</tspan></text>
<line x1="50.5" x2="66.6" y1="415" y2="415" stroke="#3a3a3a" stroke-width="1.3"/>
<text x="70" y="417.8" textLength="33.1" font-family="Liberation Sans, sans-serif" font-size="7.6" fill="#2a2a2a" stroke="#2a2a2a" stroke-width="0.15" lengthAdjust="spacingAndGlyphs">BTC Price</text>
<line x1="109" x2="125" y1="415" y2="415" stroke="#f7b85a" stroke-width="1.3"/>
<text x="129" y="417.8" textLength="61.6" font-family="Liberation Sans, sans-serif" font-size="7.6" fill="#2a2a2a" stroke="#2a2a2a" stroke-width="0.15" lengthAdjust="spacingAndGlyphs">1Yr+ HODL Wave</text>
<circle cx="205" cy="414.9" r="3.8" fill="#fbd3d9"/>
<text x="216.5" y="417.8" textLength="36" font-family="Liberation Sans, sans-serif" font-size="7.6" fill="#2a2a2a" stroke="#2a2a2a" stroke-width="0.15" lengthAdjust="spacingAndGlyphs">Price Peak</text>
<circle cx="267.1" cy="414.9" r="3.8" fill="#dcf5ec"/>
<text x="278.7" y="417.8" textLength="45.3" font-family="Liberation Sans, sans-serif" font-size="7.6" fill="#2a2a2a" stroke="#2a2a2a" stroke-width="0.15" lengthAdjust="spacingAndGlyphs">Price Bottom</text>
<circle cx="338.4" cy="414.9" r="3.8" fill="#dcf5ec"/>
<text x="349.7" y="417.8" textLength="45.3" font-family="Liberation Sans, sans-serif" font-size="7.6" fill="#2a2a2a" stroke="#2a2a2a" stroke-width="0.15" lengthAdjust="spacingAndGlyphs">Price Bottom</text>
</svg>
</div>
<div class="bar" id="head">
<svg width="18" height="18" viewBox="0 0 18 18"><circle cx="8.15" cy="8.2" r="8.05" fill="#f7931a"/><g transform="translate(8.2,8.2) rotate(13) scale(1.14,1)" fill="#fff"><text x="0.2" y="3.05" text-anchor="middle" font-family="Liberation Sans, sans-serif" font-weight="bold" font-size="8.5">B</text><rect x="-1.75" y="-4.15" width="0.9" height="1.3"/><rect x="-0.05" y="-4.15" width="0.9" height="1.3"/><rect x="-1.75" y="2.85" width="0.9" height="1.3"/><rect x="-0.05" y="2.85" width="0.9" height="1.3"/></g></svg>
<h1>Bitcoin: 1+ Year HODL Wave</h1>
</div>
<div class="bar" id="tools">
<div class="btn"><svg width="12" height="11" viewBox="1166 52 12 11"><path fill="#333" d="M1170.3,53.3 L1174.1,53.3 L1175.1,54.6 L1176.6,54.6 Q1177.6,54.6 1177.6,55.6 L1177.6,61.8 Q1177.6,62.8 1176.6,62.8 L1167.9,62.8 Q1166.9,62.8 1166.9,61.8 L1166.9,55.6 Q1166.9,54.6 1167.9,54.6 L1169.3,54.6 Z"/><circle cx="1172.2" cy="58.6" r="2.0" fill="#333" stroke="#fff" stroke-width="1.1"/></svg></div>
</div>
<div id="foot">© 2025 Bitcoin Magazine Pro.</div>
</body></html>
